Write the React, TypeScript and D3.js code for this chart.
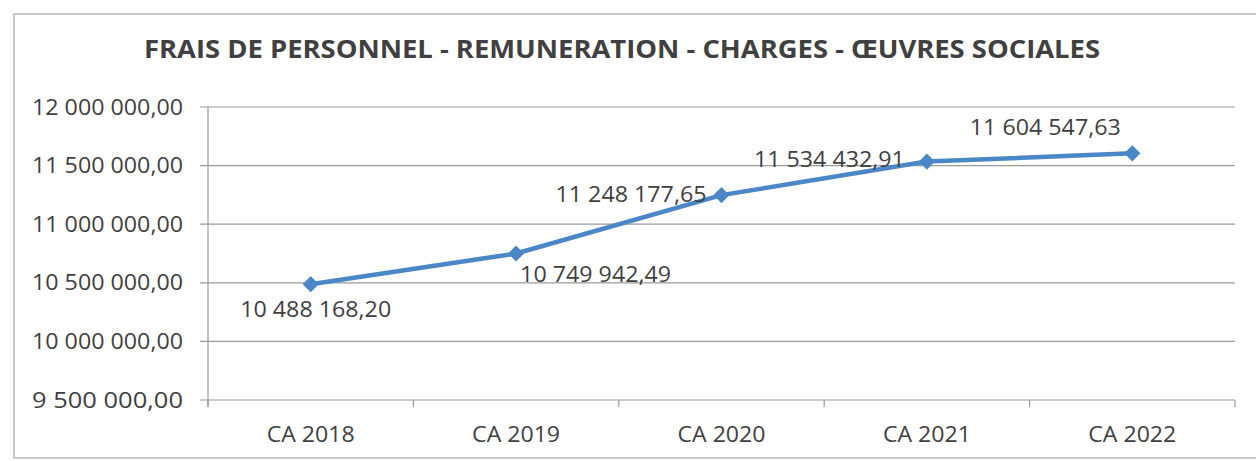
import React from 'react'
import * as d3 from 'd3'

const categories = ['CA 2018', 'CA 2019', 'CA 2020', 'CA 2021', 'CA 2022']
const values = [10488168.2, 10749942.49, 11248177.65, 11534432.91, 11604547.63]
const yTicks = [9500000, 10000000, 10500000, 11000000, 11500000, 12000000]
const title = 'FRAIS DE PERSONNEL - REMUNERATION - CHARGES - ŒUVRES SOCIALES'

const width = 1256
const height = 461
const plot = { left: 208, right: 1235, top: 107, bottom: 400 }

const fr = d3.formatLocale({ decimal: ',', thousands: ' ', grouping: [3], currency: ['', ' €'] })
const fmt = fr.format(',.2f')

// label placement per point: anchor, dx, dy (baseline)
const labelPos: [string, number, number][] = [
    ['middle', 5, 33],
    ['start', 4, 28],
    ['end', -15, 7],
    ['end', -22, 5],
    ['middle', -87, -18],
]

const font = '"Open Sans", "Noto Sans", sans-serif'
const textColor = '#404040'
const lineColor = '#4a87c6'

const App: React.FC = () => {
    const x = d3.scaleBand().domain(categories).range([plot.left, plot.right]).padding(0)
    const y = d3.scaleLinear().domain([9500000, 12000000]).range([plot.bottom, plot.top])
    const cx = (c: string) => (x(c) || 0) + x.bandwidth() / 2

    const line = d3
        .line<number>()
        .x((_, i) => cx(categories[i]))
        .y((d) => y(d))

    // excel-style diamond: square turned 45°
    const diamond = d3.symbol().type(d3.symbolSquare).size(130)()

    const bounds = categories.map((c) => x(c) || 0).concat([plot.right])

    return (
        <svg
            width={width}
            height={height}
            style={{ position: 'absolute', left: 0, top: 0, background: '#fff' }}
            fontFamily={font}
        >
            <rect x={14} y={14} width={1300} height={444} fill="none" stroke="#b8b8b8" strokeWidth={1.5} />
            <text
                x={622}
                y={58}
                textAnchor="middle"
                fontSize={25}
                fontWeight="bold"
                fill={textColor}
                textLength={956}
                lengthAdjust="spacingAndGlyphs"
            >
                {title}
            </text>

            {/* gridlines + y ticks */}
            {yTicks.map((t) => (
                <g key={t}>
                    <line x1={plot.left - 8} x2={plot.right} y1={y(t)} y2={y(t)} stroke="#9a9a9a" strokeWidth={1.2} />
                    <text
                        x={183}
                        y={y(t)}
                        dy="0.36em"
                        textAnchor="end"
                        fontSize={21}
                        fill={textColor}
                        textLength={151}
                        lengthAdjust="spacingAndGlyphs"
                    >
                        {fmt(t)}
                    </text>
                </g>
            ))}

            {/* axes */}
            <line x1={plot.left} x2={plot.left} y1={plot.top} y2={plot.bottom + 7} stroke="#9a9a9a" strokeWidth={1.2} />
            {bounds.map((b, i) => (
                <line key={i} x1={b} x2={b} y1={plot.bottom} y2={plot.bottom + 7} stroke="#9a9a9a" strokeWidth={1.2} />
            ))}
            {categories.map((c) => (
                <text
                    key={c}
                    x={cx(c)}
                    y={442}
                    textAnchor="middle"
                    fontSize={22}
                    fill={textColor}
                    textLength={88}
                    lengthAdjust="spacingAndGlyphs"
                >
                    {c}
                </text>
            ))}

            {/* series */}
            <path d={line(values) || ''} fill="none" stroke={lineColor} strokeWidth={4.5} strokeLinejoin="round" />
            {values.map((v, i) => (
                <path
                    key={i}
                    d={diamond || ''}
                    transform={`translate(${cx(categories[i])},${y(v)}) rotate(45)`}
                    fill={lineColor}
                />
            ))}
            {values.map((v, i) => {
                const [anchor, dx, dy] = labelPos[i]
                return (
                    <text
                        key={i}
                        x={cx(categories[i]) + dx}
                        y={y(v) + dy}
                        textAnchor={anchor as any}
                        fontSize={21}
                        fill={textColor}
                        textLength={151}
                        lengthAdjust="spacingAndGlyphs"
                    >
                        {fmt(v)}
                    </text>
                )
            })}
        </svg>
    )
}

export default App
